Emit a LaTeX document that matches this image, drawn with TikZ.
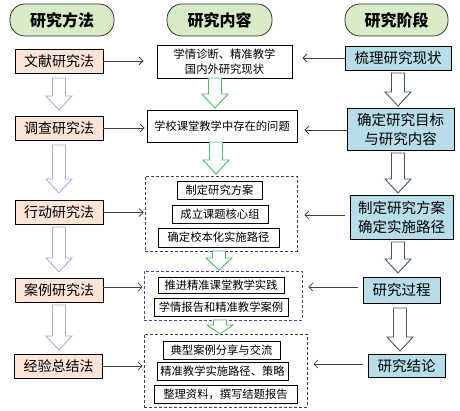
\documentclass[tikz,border=0pt]{standalone}
\usepackage{fontspec}
\setmainfont{Noto Sans CJK SC}
\usepackage{tikz}
\usetikzlibrary{arrows.meta}

\definecolor{headgreen}{RGB}{216,236,200}
\definecolor{peach}{RGB}{252,228,214}
\definecolor{paleblue}{RGB}{183,222,232}
\definecolor{lavender}{RGB}{185,165,220}
\definecolor{arrgreen}{RGB}{80,185,110}
\definecolor{arrblue}{RGB}{70,85,110}
\definecolor{dashblue}{RGB}{55,68,82}
\definecolor{dashpurple}{RGB}{112,48,160}

% hollow down arrow: [head length] x, top, bottom, colour
\newcommand{\fatarrow}[5][14]{%
\draw[#5, line width=0.9pt, fill=white, line join=miter] (#2-6.5,#3) -- (#2+6.5,#3) -- (#2+6.5,#4-#1) -- (#2+13,#4-#1) -- (#2,#4) -- (#2-13,#4-#1) -- (#2-6.5,#4-#1) -- cycle;}

\begin{document}
\begin{tikzpicture}[x=1pt, y=-1pt,
  header/.style={draw=black!80, line width=0.8pt, fill=headgreen, rounded corners=15pt, inner sep=0pt, font=\fontsize{16}{18}\selectfont\bfseries},
  method/.style={draw=black, line width=0.8pt, fill=peach, inner sep=0pt, minimum height=24pt, minimum width=88pt, font=\fontsize{14}{16}\selectfont},
  stage/.style={draw=black, line width=0.8pt, fill=paleblue, inner sep=0pt, align=center, font=\fontsize{14.5}{19}\selectfont},
  item/.style={draw=black, line width=0.8pt, fill=white, inner sep=0pt, align=center, font=\fontsize{11.3}{15}\selectfont},
  group/.style={draw=#1, line width=0.7pt, dash pattern=on 3pt off 2pt, inner sep=0pt},
  link/.style={draw=black!75, line width=0.8pt, -{Straight Barb[length=4pt,width=8pt]}}]
\useasboundingbox (0,0) rectangle (460,411);

% headers
\node[header, minimum width=104pt, minimum height=32pt] (hmethod) at (62,20) {研究方法};
\node[header, minimum width=105pt, minimum height=32pt] (hcontent) at (219.5,20) {研究内容};
\node[header, minimum width=103pt, minimum height=32pt] (hstage) at (396.5,20) {研究阶段};

% research methods
\node[method] (lit) at (59,61) {文献研究法};
\node[method] (survey) at (59,128) {调查研究法};
\node[method] (action) at (59,212.5) {行动研究法};
\node[method] (case) at (59,290) {案例研究法};
\node[method] (summary) at (58.5,366) {经验总结法};

% research stages
\node[stage, minimum width=106pt, minimum height=24pt] (sorting) at (398,58) {梳理研究现状};
\node[stage, minimum width=107pt, minimum height=42pt] (goal) at (400.5,129) {确定研究目标\\与研究内容};
\node[stage, minimum width=103pt, minimum height=44pt] (plan) at (401.5,217) {制定研究方案\\确定实施路径};
\node[stage, minimum width=77pt, minimum height=26pt] (process) at (401.5,290) {研究过程};
\node[stage, minimum width=77pt, minimum height=23pt] (result) at (406.5,365.5) {研究结论};

% research content
\node[item, minimum width=135pt, minimum height=33pt] (status) at (224.5,61.5) {学情诊断、精准教学\\国内外研究现状};
\node[item, minimum width=150pt, minimum height=32pt] (problem) at (222,126) {学校课堂教学中存在的问题};

\node[group=dashblue, minimum width=152pt, minimum height=75pt] (grpplan) at (221,213.5) {};
\node[item, minimum width=85pt, minimum height=18pt] (scheme) at (219.5,190) {制定研究方案};
\node[item, minimum width=96pt, minimum height=18pt] (team) at (220,214) {成立课题核心组};
\node[item, minimum width=121pt, minimum height=19pt] (path) at (218.5,237.5) {确定校本化实施路径};

\node[group=dashpurple, minimum width=158pt, minimum height=49pt] (grpcase) at (223,295.5) {};
\node[item, minimum width=126pt, minimum height=16pt] (practice) at (221,285) {推进精准课堂教学实践};
\node[item, minimum width=134pt, minimum height=18pt] (report) at (221,307) {学情报告和精准教学案例};

\node[group=dashblue, minimum width=163pt, minimum height=73pt] (grpsum) at (225.5,370.5) {};
\node[item, minimum width=117pt, minimum height=18pt] (share) at (221.5,350) {典型案例分享与交流};
\node[item, minimum width=131pt, minimum height=18pt] (strategy) at (222.5,371) {精准教学实施路径、策略};
\node[item, minimum width=143pt, minimum height=18pt] (final) at (225.5,394) {整理资料，撰写结题报告};

% hollow arrows
\fatarrow{59}{78}{110}{lavender}
\fatarrow{59}{145}{193}{lavender}
\fatarrow{59}{227}{272}{lavender}
\fatarrow{59}{305}{350}{lavender}

\fatarrow{215}{78}{108}{arrgreen}
\fatarrow{216}{142}{174}{arrgreen}
\fatarrow[12]{219}{251}{270}{arrgreen}
\fatarrow[9]{220}{320}{334}{arrgreen}

\fatarrow{398}{73}{106}{arrblue}
\fatarrow{398}{153}{193}{arrblue}
\fatarrow{398}{242}{273}{arrblue}
\fatarrow{400}{308}{351}{arrblue}

% methods -> content
\draw[link, shorten >=13pt] (lit.east) -- (lit.east -| status.west);
\draw[link, shorten >=2pt] (survey.east) -- (survey.east -| problem.west);
\draw[link, shorten >=1pt] (action.east) -- (action.east -| grpplan.west);
\draw[link, shorten >=1pt] ([yshift=3pt]case.east) -- ([yshift=3pt]case.east -| grpcase.west);
\draw[link, shorten >=1pt] (summary.east) -- (summary.east -| grpsum.west);

% stages -> content
\draw[link, shorten >=10pt] (sorting.west) -- (sorting.west -| status.east);
\draw[link, shorten >=7pt] ([yshift=-1pt]goal.west) -- ([yshift=-1pt]goal.west -| problem.east);
\draw[link, shorten <=5pt, shorten >=7pt] ([yshift=2pt]plan.west) -- ([yshift=2pt]plan.west -| grpplan.east);
\draw[link, shorten <=5pt, shorten >=6pt] ([yshift=3pt]process.west) -- ([yshift=3pt]process.west -| grpcase.east);
\draw[link, shorten <=5pt, shorten >=6pt] ([yshift=1.5pt]result.west) -- ([yshift=1.5pt]result.west -| grpsum.east);
\end{tikzpicture}
\end{document}
